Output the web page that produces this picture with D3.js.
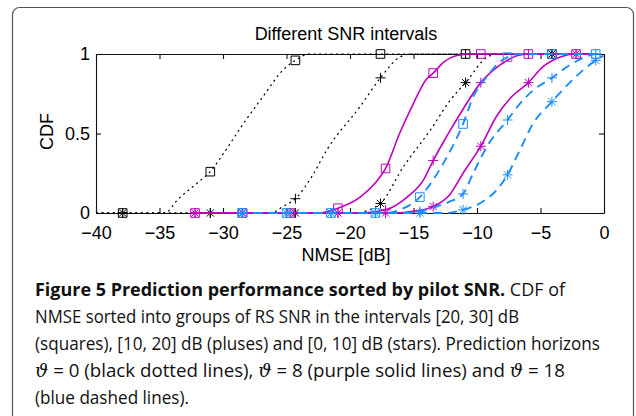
<!DOCTYPE html>
<html>
<head>
<meta charset="utf-8">
<script src="https://cdn.jsdelivr.net/npm/d3@7"></script>
<style>
  body { margin: 0; background: #fff; }
  svg { display: block; }
</style>
</head>
<body>
<div id="chart"></div>
<script>
// axis ticks
var xTicks = [-40, -35, -30, -25, -20, -15, -10, -5, 0];
var yTicks = [0, 0.5, 1];

// marker positions (NMSE in dB) for each prediction horizon
var blackMarkX  = [-37.9, -31.0, -24.3, -17.6, -10.9, -4.1];
var purpleMarkX = [-32.2, -28.45, -24.7, -20.95, -17.2, -13.45, -9.7, -5.95, -2.2];
var blueMarkX   = [-28.5, -25.0, -21.5, -18.0, -14.5, -11.1, -7.6, -4.1, -0.65];

// CDF read at the markers
var blackSquaresY  = [0, 0.26, 0.96, 1, 1, 1];
var blackPlusesY   = [0, 0, 0.09, 0.85, 1, 1];
var blackStarsY    = [0, 0, 0, 0.06, 0.82, 1];
var purpleSquaresY = [0, 0, 0, 0.03, 0.28, 0.88, 1, 1, 1];
var purplePlusesY  = [0, 0, 0, 0, 0.02, 0.33, 0.82, 1, 1];
var purpleStarsY   = [0, 0, 0, 0, 0, 0.04, 0.42, 0.82, 1];
var blueSquaresY   = [0, 0, 0, 0, 0.10, 0.56, 0.98, 1, 1];
var bluePlusesY    = [0, 0, 0, 0, 0.01, 0.12, 0.585, 0.85, 1];
var blueStarsY     = [0, 0, 0, 0, 0, 0.02, 0.24, 0.70, 0.96];

// CDF curves, [NMSE, CDF]
var blackSquaresCurve = [[-40,0],[-34.6,0],[-33.5,0.09],[-32,0.19],[-31,0.26],[-30,0.37],[-28.5,0.55],
  [-26.6,0.76],[-25.5,0.88],[-24.3,0.96],[-23.2,1],[-3.5,1]];
var blackPlusesCurve = [[-40,0],[-26.2,0],[-25.3,0.04],[-24.3,0.09],[-23,0.23],[-21.8,0.40],[-19.2,0.67],
  [-17.6,0.85],[-16.1,0.98],[-15.2,1],[-3.5,1]];
var blackStarsCurve = [[-40,0],[-19.4,0],[-18.5,0.02],[-17.6,0.06],[-15.8,0.29],[-13.6,0.53],[-12.1,0.71],
  [-10.9,0.82],[-9.2,0.98],[-8.4,1],[-3.5,1]];
var purpleSquaresCurve = [[-32.6,0],[-22.5,0],[-20.95,0.03],[-19.2,0.10],[-18,0.19],[-17.2,0.28],[-16.1,0.5],
  [-15,0.69],[-14,0.84],[-13.45,0.88],[-12.6,0.95],[-11.6,0.99],[-10.6,1],[-1.2,1]];
var purplePlusesCurve = [[-32.6,0],[-19,0],[-17.2,0.02],[-15.5,0.10],[-14.2,0.21],[-13.45,0.33],[-12.4,0.48],
  [-11.2,0.64],[-9.7,0.82],[-8.2,0.93],[-6.8,0.99],[-5.95,1],[-1.2,1]];
var purpleStarsCurve = [[-32.6,0],[-16.5,0],[-15,0.01],[-13.45,0.04],[-12.1,0.12],[-11.1,0.25],[-9.7,0.42],
  [-8.45,0.61],[-7.4,0.72],[-5.95,0.82],[-4.8,0.92],[-3.5,0.98],[-2.2,1],[-1.2,1]];
var blueSquaresCurve = [[-28.8,0],[-17.2,0],[-16.1,0.02],[-14.5,0.10],[-13.7,0.18],[-12.6,0.32],[-11.1,0.56],
  [-10.3,0.73],[-9.2,0.86],[-8.2,0.95],[-7.6,0.98],[-6.5,1],[-0.2,1]];
var bluePlusesCurve = [[-28.8,0],[-15,0],[-14.5,0.01],[-13.2,0.04],[-12.2,0.07],[-11.1,0.12],[-10.3,0.25],
  [-9.2,0.42],[-7.6,0.585],[-6.6,0.69],[-5.6,0.77],[-4.1,0.85],[-2.7,0.93],[-1.5,0.98],[-0.65,1],[-0.2,1]];
var blueStarsCurve = [[-28.8,0],[-12.5,0],[-11.1,0.02],[-9.8,0.06],[-8.45,0.145],[-7.6,0.24],[-6.6,0.40],
  [-5.6,0.56],[-4.1,0.70],[-2.7,0.82],[-0.65,0.96],[-0.05,0.99]];

var black = "#000", purple = "#bf00bf", blue = "#1a8cff";

var series = [
  {curve: blackSquaresCurve, mx: blackMarkX, my: blackSquaresY, color: black, style: "dot", marker: "square"},
  {curve: blackPlusesCurve,  mx: blackMarkX, my: blackPlusesY,  color: black, style: "dot", marker: "plus"},
  {curve: blackStarsCurve,   mx: blackMarkX, my: blackStarsY,   color: black, style: "dot", marker: "star"},
  {curve: purpleSquaresCurve, mx: purpleMarkX, my: purpleSquaresY, color: purple, style: "solid", marker: "square"},
  {curve: purplePlusesCurve,  mx: purpleMarkX, my: purplePlusesY,  color: purple, style: "solid", marker: "plus"},
  {curve: purpleStarsCurve,   mx: purpleMarkX, my: purpleStarsY,   color: purple, style: "solid", marker: "star"},
  {curve: blueSquaresCurve, mx: blueMarkX, my: blueSquaresY, color: blue, style: "dash", marker: "square"},
  {curve: bluePlusesCurve,  mx: blueMarkX, my: bluePlusesY,  color: blue, style: "dash", marker: "plus"},
  {curve: blueStarsCurve,   mx: blueMarkX, my: blueStarsY,   color: blue, style: "dash", marker: "star"}
];

var markerPath = {
  square: "M-4.3,-4.3h8.6v8.6h-8.6z",
  plus: "M-5,0h10M0,-5v10",
  star: "M-5,0h10M0,-5v10M-3.6,-3.6l7.2,7.2M-3.6,3.6l7.2,-7.2"
};

var W = 636, H = 416;
var margin = {top: 54, left: 96},
    width = 508,
    height = 159;

var svg = d3.select("#chart")
  .append("svg")
    .attr("width", W)
    .attr("height", H)
    .style("font-family", "'Liberation Sans', Arial, sans-serif");

svg.append("rect").attr("width", W).attr("height", H).attr("fill", "#fff");

// rounded frame around the whole figure
svg.append("rect")
  .attr("x", 12.5).attr("y", 7.5)
  .attr("width", 621).attr("height", 440)
  .attr("rx", 7)
  .attr("fill", "none")
  .attr("stroke", "#555")
  .attr("stroke-width", 1.2);

var g = svg.append("g")
  .attr("transform", "translate(" + margin.left + "," + margin.top + ")");

var x = d3.scaleLinear().domain([-40, 0]).range([0, width]);
var y = d3.scaleLinear().domain([0, 1]).range([height, 0]);

var fmt = function (d) { return d < 0 ? "\u2212" + Math.abs(d) : String(d); };

// axes, ticks pointing inward
g.append("g")
  .attr("transform", "translate(0," + height + ")")
  .call(d3.axisBottom(x).tickValues(xTicks).tickFormat(fmt).tickSizeInner(-5).tickSizeOuter(0).tickPadding(13));
g.append("g")
  .call(d3.axisTop(x).tickValues(xTicks).tickFormat("").tickSizeInner(-5).tickSizeOuter(0));
g.append("g")
  .call(d3.axisLeft(y).tickValues(yTicks).tickFormat(d3.format("")).tickSizeInner(-5).tickSizeOuter(0).tickPadding(6));
g.append("g")
  .attr("transform", "translate(" + width + ",0)")
  .call(d3.axisRight(y).tickValues(yTicks).tickFormat("").tickSizeInner(-5).tickSizeOuter(0));

g.selectAll(".domain, .tick line").attr("stroke", "#111").attr("stroke-width", 1.1);
g.selectAll(".tick text").attr("font-size", 18).attr("fill", "#000")
  .attr("font-family", "'Liberation Sans', Arial, sans-serif");

var line = d3.line()
  .x(function (d) { return x(d[0]); })
  .y(function (d) { return y(d[1]); })
  .curve(d3.curveMonotoneX);

series.forEach(function (s) {
  var p = g.append("path")
    .datum(s.curve)
    .attr("d", line)
    .attr("fill", "none")
    .attr("stroke", s.color);
  if (s.style === "dot") {
    p.attr("stroke-width", 1.2).attr("stroke-dasharray", "2,3.6");
  } else if (s.style === "dash") {
    p.attr("stroke-width", 1.9).attr("stroke-dasharray", "9,6");
  } else {
    p.attr("stroke-width", 1.6);
  }

  g.selectAll(null)
    .data(s.mx.map(function (v, i) { return [v, s.my[i]]; }))
    .enter().append("path")
      .attr("transform", function (d) { return "translate(" + x(d[0]) + "," + y(d[1]) + ")"; })
      .attr("d", markerPath[s.marker])
      .attr("fill", "none")
      .attr("stroke", s.color)
      .attr("stroke-width", 1);
});

// titles
svg.append("text")
  .attr("x", margin.left + width / 2 - 4).attr("y", 40)
  .attr("text-anchor", "middle").attr("font-size", 18)
  .text("Different SNR intervals");
svg.append("text")
  .attr("x", margin.left + width / 2 - 4).attr("y", 261)
  .attr("text-anchor", "middle").attr("font-size", 18)
  .text("NMSE [dB]");
svg.append("text")
  .attr("transform", "translate(53," + (margin.top + height / 2 - 2) + ") rotate(-90)")
  .attr("text-anchor", "middle").attr("font-size", 18)
  .text("CDF");

// caption
var capX = 35, capY = 296, capStep = 27;
var cap = svg.append("g")
  .attr("font-family", "'Open Sans', 'Noto Sans', sans-serif")
  .attr("font-size", 18)
  .attr("fill", "#111");

var l1 = cap.append("text").attr("x", capX).attr("y", capY)
  .attr("textLength", 530).attr("lengthAdjust", "spacingAndGlyphs");
l1.append("tspan").attr("font-weight", "bold").text("Figure 5 Prediction performance sorted by pilot SNR.");
l1.append("tspan").text(" CDF of");

cap.append("text").attr("x", capX).attr("y", capY + capStep)
  .attr("textLength", 484).attr("lengthAdjust", "spacingAndGlyphs")
  .text("NMSE sorted into groups of RS SNR in the intervals [20, 30] dB");

cap.append("text").attr("x", capX).attr("y", capY + 2 * capStep)
  .attr("textLength", 565).attr("lengthAdjust", "spacingAndGlyphs")
  .text("(squares), [10, 20] dB (pluses) and [0, 10] dB (stars). Prediction horizons");

var l4 = cap.append("text").attr("x", capX).attr("y", capY + 3 * capStep)
  .attr("textLength", 530).attr("lengthAdjust", "spacingAndGlyphs");
[["\u03D1", true], [" = 0 (black dotted lines), ", false], ["\u03D1", true],
 [" = 8 (purple solid lines) and ", false], ["\u03D1", true], [" = 18", false]].forEach(function (t) {
  var ts = l4.append("tspan").text(t[0]);
  if (t[1]) ts.attr("font-family", "'DejaVu Serif', serif").attr("font-style", "italic");
});

cap.append("text").attr("x", capX).attr("y", capY + 4 * capStep)
  .attr("textLength", 154).attr("lengthAdjust", "spacingAndGlyphs")
  .text("(blue dashed lines).");
</script>
</body>
</html>
